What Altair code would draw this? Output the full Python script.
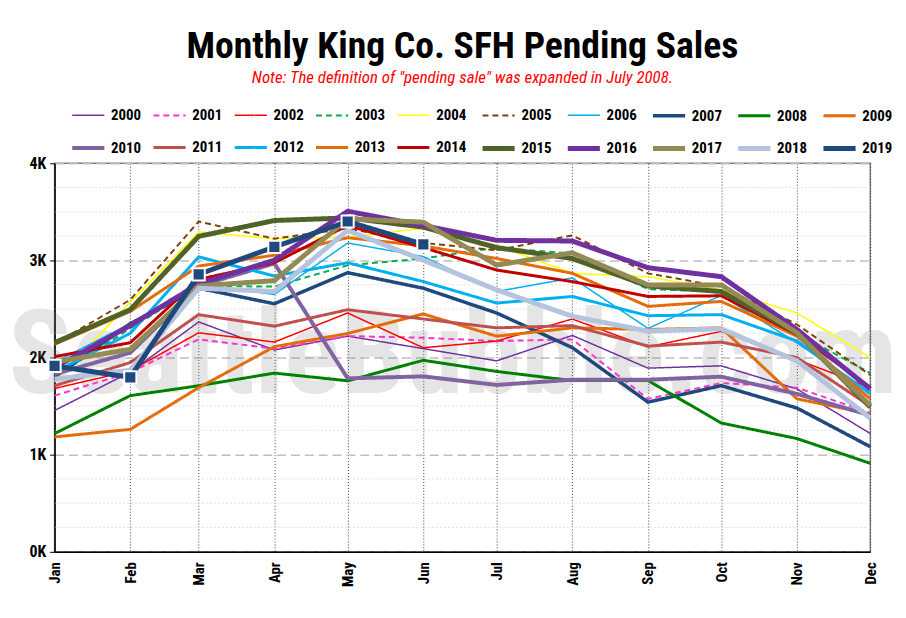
import altair as alt
import pandas as pd

months = ["Jan", "Feb", "Mar", "Apr", "May", "Jun", "Jul", "Aug", "Sep", "Oct", "Nov", "Dec"]
month_day = [0, 31, 59, 90, 120, 151, 181, 212, 243, 273, 304, 334]

years = [str(y) for y in range(2000, 2020)]

s2000 = [1455, 1850, 2367, 2078, 2221, 2092, 1966, 2228, 1891, 1915, 1677, 1218]
s2001 = [1608, 1850, 2187, 2092, 2221, 2204, 2170, 2187, 1575, 1738, 1690, 1430]
s2002 = [1682, 1863, 2255, 2160, 2459, 2101, 2170, 2397, 2110, 2270, 1980, 1690]
s2003 = [1800, 2300, 2737, 2731, 2950, 3020, 3132, 3071, 2704, 2680, 2250, 1840]
s2004 = [1750, 2570, 3293, 3224, 3240, 3330, 3156, 2867, 2833, 2697, 2459, 2000]
s2005 = [2140, 2595, 3401, 3224, 3330, 3180, 3105, 3258, 2867, 2731, 2340, 1820]
s2006 = [1950, 2350, 2750, 2650, 3180, 3040, 2680, 2820, 2300, 2640, 2150, 1640]
s2007 = [1800, 2350, 2714, 2554, 2874, 2714, 2459, 2102, 1541, 1711, 1480, 1082]
s2008 = [1217, 1608, 1710, 1840, 1761, 1972, 1857, 1763, 1763, 1326, 1166, 911]
s2009 = [1183, 1261, 1690, 2112, 2248, 2449, 2220, 2306, 2289, 2306, 1575, 1420]
s2010 = [1830, 2050, 2737, 2969, 1786, 1806, 1718, 1772, 1772, 1803, 1626, 1405]
s2011 = [1710, 1949, 2442, 2323, 2493, 2397, 2306, 2329, 2118, 2159, 2000, 1500]
s2012 = [1850, 2250, 3037, 2840, 2976, 2782, 2561, 2629, 2431, 2442, 2170, 1626]
s2013 = [2136, 2476, 2942, 3054, 3234, 3150, 3020, 2867, 2527, 2578, 2221, 1575]
s2014 = [2010, 2153, 2805, 2976, 3360, 3132, 2901, 2782, 2629, 2636, 2238, 1694]
s2015 = [2153, 2493, 3248, 3411, 3438, 3343, 3132, 3020, 2737, 2680, 2255, 1490]
s2016 = [1898, 2330, 2758, 3003, 3506, 3360, 3207, 3200, 2925, 2833, 2289, 1677]
s2017 = [1955, 2085, 2737, 2792, 3428, 3394, 2952, 3078, 2748, 2748, 2255, 1507]
s2018 = [1778, 1870, 2714, 2680, 3309, 3003, 2697, 2425, 2272, 2296, 1966, 1377]
s2019 = [1914, 1796, 2857, 3139, 3401, 3166]

series = [s2000, s2001, s2002, s2003, s2004, s2005, s2006, s2007, s2008, s2009,
          s2010, s2011, s2012, s2013, s2014, s2015, s2016, s2017, s2018, s2019]

colors = ["#7030A0", "#FF33CC", "#FF0000", "#00B050", "#FFFF00", "#843C0C", "#00B0F0",
          "#1F497D", "#008000", "#E46C0A", "#8064A2", "#C0504D", "#00B0F0", "#E46C0A",
          "#C00000", "#4F6228", "#7030A0", "#948A54", "#B4C4DE", "#1F497D"]
widths = [1.5, 2, 1.5, 2, 1.5, 2, 1.5, 3.5, 3, 3, 4, 3, 3, 3, 3, 5, 5, 5, 5, 5]
dashes = [[1, 0], [6, 4], [1, 0], [6, 4], [1, 0], [6, 4], [1, 0], [1, 0], [1, 0], [1, 0],
          [1, 0], [1, 0], [1, 0], [1, 0], [1, 0], [1, 0], [1, 0], [1, 0], [1, 0], [1, 0]]

minor_grid = [v for v in range(250, 4000, 250) if v % 1000 != 0]

rows = []
for yr, vals in zip(years, series):
    for mi, v in enumerate(vals):
        rows.append({"year": yr, "day": month_day[mi], "month": months[mi], "value": v})
df = pd.DataFrame(rows)

FONT = "'Roboto Condensed', 'DejaVu Sans Condensed', 'Liberation Sans Narrow', Roboto, sans-serif"

label_expr = ("[" + ",".join("'%s'" % m for m in months) + "][indexof(["
              + ",".join(str(d) for d in month_day) + "], datum.value)]")

x_scale = alt.Scale(domain=[0, 334], nice=False, zero=False)
y_scale = alt.Scale(domain=[0, 4000], nice=False)

x_axis = alt.Axis(values=month_day, labelExpr=label_expr, labelAngle=270,
                  title=None, grid=True, gridColor="#404040", gridDash=[1, 2],
                  gridWidth=1, ticks=False, domainColor="#000000", domainWidth=1.5,
                  labelFont=FONT, labelFontWeight="bold", labelFontSize=15,
                  labelPadding=10, labelColor="#000000")

y_axis = alt.Axis(values=[0, 1000, 2000, 3000, 4000], title=None,
                  labelExpr="(datum.value/1000) + 'K'",
                  grid=True, gridColor="#BFBFBF", gridDash=[9, 5], gridWidth=1.5,
                  tickColor="#000000", tickSize=5, domainColor="#000000", domainWidth=1.5,
                  labelFont=FONT, labelFontWeight="bold", labelFontSize=16,
                  labelColor="#000000", labelPadding=4)

wm_df = pd.DataFrame({"t": ["SeattleBubble.com"]})
watermark = alt.Chart(wm_df).mark_text(
    font=FONT, fontWeight="bold", fontSize=118, color="#808080", opacity=0.2,
    align="center", baseline="alphabetic"
).encode(text="t:N", x=alt.value(402), y=alt.value(232))

grid_df = pd.DataFrame({"g": minor_grid})
minor = alt.Chart(grid_df).mark_rule(color="#E2E2E2", strokeDash=[2, 2], strokeWidth=1).encode(
    y=alt.Y("g:Q", scale=y_scale, axis=y_axis)
)

leg = alt.Legend(orient="none", legendX=15, legendY=-66, columns=10,
                 direction="horizontal", title=None,
                 symbolType="stroke", symbolSize=1050,
                 labelFont=FONT, labelFontWeight="bold", labelFontSize=15,
                 labelColor="#000000", columnPadding=5, rowPadding=6,
                 labelOffset=4, symbolLimit=0)

lines = alt.Chart(df).mark_line(clip=False).encode(
    x=alt.X("day:Q", scale=x_scale, axis=x_axis),
    y=alt.Y("value:Q", scale=y_scale, axis=y_axis),
    color=alt.Color("year:O", scale=alt.Scale(domain=years, range=colors), legend=leg),
    strokeWidth=alt.StrokeWidth("year:O", scale=alt.Scale(type="ordinal", domain=years, range=widths), legend=leg),
    strokeDash=alt.StrokeDash("year:O", scale=alt.Scale(domain=years, range=dashes), legend=leg),
)

pts = alt.Chart(df[df["year"] == "2019"]).mark_point(
    shape="square", filled=True, size=150, color="#1F497D", stroke="#FFFFFF", strokeWidth=2, opacity=1
).encode(x="day:Q", y="value:Q")

chart = alt.layer(watermark, minor, lines, pts).properties(
    width=823, height=392,
    autosize=alt.AutoSizeParams(type="none"),
    padding={"left": 47, "top": 154, "right": 28, "bottom": 56},
    title=alt.TitleParams(
        text="Monthly King Co. SFH Pending Sales",
        subtitle="Note: The definition of \"pending sale\" was expanded in July 2008.",
        font=FONT, fontSize=38, fontWeight="bold", color="#000000",
        subtitleFont=FONT, subtitleFontSize=17, subtitleFontStyle="italic", subtitleFontWeight="normal",
        subtitleColor="#FF0000", subtitlePadding=4, anchor="middle", offset=12,
    ),
).configure_view(stroke="#808080", strokeWidth=1.5)

chart.save("out.html", embed_options={"renderer": "svg", "actions": False})
